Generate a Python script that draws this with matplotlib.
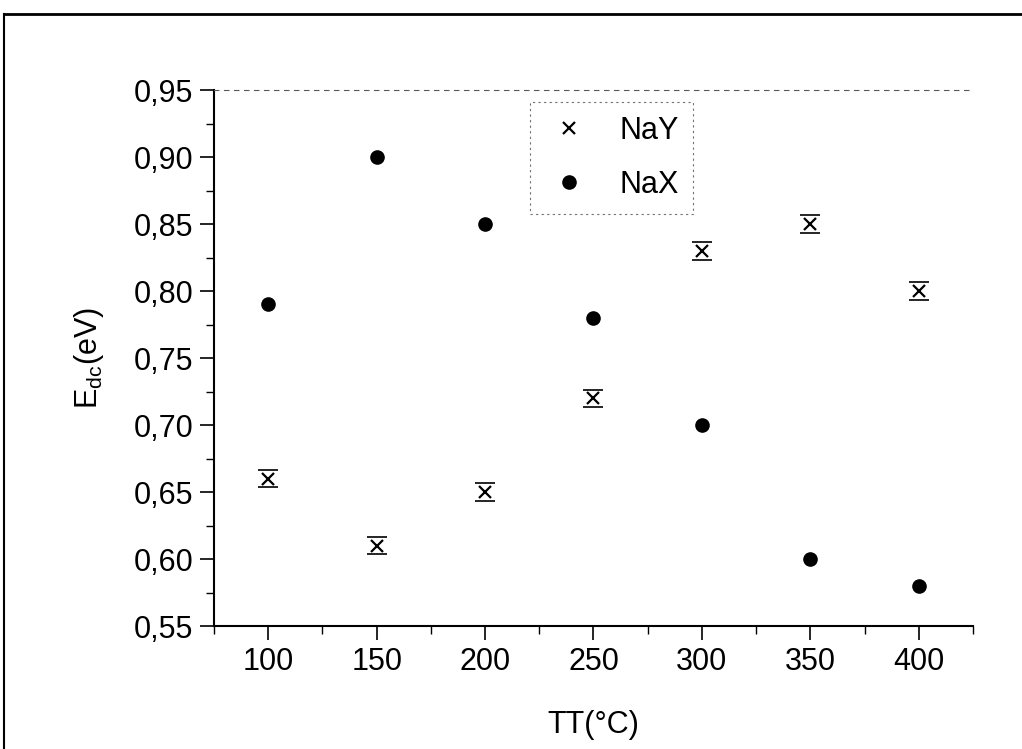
import numpy as np
import matplotlib
matplotlib.use("Agg")
from matplotlib import pyplot as plt
from matplotlib.lines import Line2D
from matplotlib.ticker import MultipleLocator, FuncFormatter

plt.rcParams['font.family'] = ['Liberation Sans', 'DejaVu Sans']
plt.rcParams['mathtext.default'] = 'regular'

# data
tt = [100, 150, 200, 250, 300, 350, 400]
nay = [0.66, 0.61, 0.65, 0.72, 0.83, 0.85, 0.80]
nay_err = [0.0065, 0.0065, 0.0065, 0.0065, 0.0065, 0.0065, 0.0065]
nax = [0.79, 0.90, 0.85, 0.78, 0.70, 0.60, 0.58]

fig = plt.figure(figsize=(10.22, 7.49), dpi=100)
ax = fig.add_axes([0.2094, 0.1642, 0.7426, 0.7156])

ax.errorbar(tt, nay, yerr=nay_err, fmt='none', ecolor='black',
            elinewidth=0, capsize=7.5, capthick=1.2)
ax.plot(tt, nay, 'x', color='black', ms=8, mew=1.6, label='NaY')
ax.plot(tt, nax, 'o', color='black', ms=9.5, label='NaX')

ax.set_xlim(75, 425)
ax.set_ylim(0.55, 0.95)
ax.xaxis.set_major_locator(MultipleLocator(50))
ax.xaxis.set_minor_locator(MultipleLocator(25))
ax.yaxis.set_major_locator(MultipleLocator(0.05))
ax.yaxis.set_minor_locator(MultipleLocator(0.025))
ax.yaxis.set_major_formatter(FuncFormatter(lambda v, p: f"{v:.2f}".replace('.', ',')))

ax.tick_params(which='major', direction='out', length=10, width=1.2, labelsize=22, pad=5)
ax.tick_params(which='minor', direction='out', length=6, width=1.0)

ax.spines['right'].set_visible(False)
ax.spines['top'].set_linestyle((0, (4, 5)))
ax.spines['top'].set_color('0.35')
ax.spines['top'].set_linewidth(0.8)
ax.spines['left'].set_linewidth(1.5)
ax.spines['bottom'].set_linewidth(1.5)

ax.set_xlabel('TT(°C)', fontsize=22, labelpad=24)
ax.set_ylabel('E$_{dc}$(eV)', fontsize=22, labelpad=20)

leg = ax.legend(loc='upper left', bbox_to_anchor=(0.416, 0.978), borderaxespad=0,
                fontsize=22, fancybox=False, frameon=True, handletextpad=0.8,
                borderpad=0.45, labelspacing=0.8, handlelength=1.7)
leg.get_frame().set_edgecolor('0.3')
leg.get_frame().set_linestyle((0, (2, 3)))
leg.get_frame().set_linewidth(0.8)

# outer frame of the scanned page
fig.add_artist(Line2D([0.004, 1.0], [0.981, 0.981], transform=fig.transFigure,
                      color='black', lw=2))
fig.add_artist(Line2D([0.004, 0.004], [0.0, 0.981], transform=fig.transFigure,
                      color='black', lw=1.5))

fig.savefig('out.png', dpi=100)
